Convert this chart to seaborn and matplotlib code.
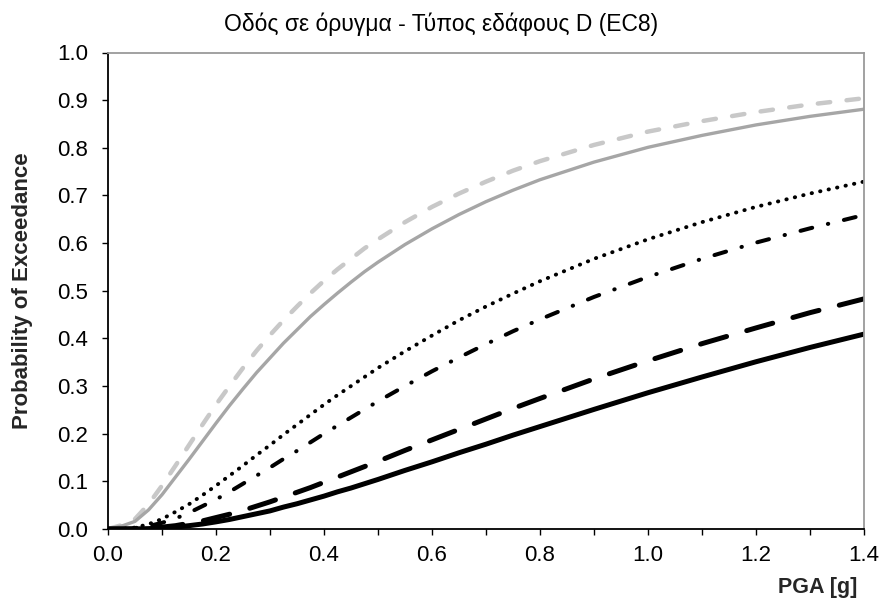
import matplotlib
matplotlib.use("Agg")
import matplotlib.pyplot as plt
import seaborn as sns
import pandas as pd

# ---- data ----
pga = [0.0, 0.025, 0.05, 0.075, 0.1, 0.125, 0.15, 0.175, 0.2, 0.225, 0.25, 0.275,
       0.3, 0.325, 0.35, 0.375, 0.4, 0.425, 0.45, 0.475, 0.5, 0.55, 0.6, 0.65,
       0.7, 0.75, 0.8, 0.9, 1.0, 1.1, 1.2, 1.3, 1.4]

curve_gray_dashed = [0.0, 0.008, 0.021, 0.052, 0.091, 0.133, 0.176, 0.219, 0.261, 0.300,
                     0.338, 0.374, 0.407, 0.438, 0.467, 0.495, 0.521, 0.545, 0.567,
                     0.589, 0.608, 0.644, 0.676, 0.704, 0.729, 0.752, 0.772, 0.806,
                     0.834, 0.856, 0.875, 0.891, 0.904]
curve_gray_solid = [0.0, 0.006, 0.016, 0.040, 0.072, 0.109, 0.146, 0.184, 0.222, 0.259,
                    0.294, 0.328, 0.359, 0.390, 0.418, 0.446, 0.471, 0.495, 0.518,
                    0.540, 0.560, 0.597, 0.630, 0.660, 0.687, 0.711, 0.733, 0.770,
                    0.801, 0.826, 0.848, 0.866, 0.881]
curve_dotted = [0.0, 0.0003, 0.003, 0.010, 0.021, 0.036, 0.052, 0.071, 0.091, 0.112,
                0.133, 0.155, 0.176, 0.198, 0.219, 0.240, 0.261, 0.281, 0.300, 0.319,
                0.338, 0.373, 0.406, 0.438, 0.467, 0.494, 0.520, 0.567, 0.608, 0.644,
                0.676, 0.704, 0.729]
curve_dashdot = [0.0, 0.0001, 0.002, 0.006, 0.013, 0.022, 0.034, 0.048, 0.062, 0.078,
                 0.095, 0.112, 0.129, 0.147, 0.164, 0.182, 0.200, 0.217, 0.234, 0.251,
                 0.268, 0.300, 0.331, 0.360, 0.388, 0.415, 0.440, 0.487, 0.529, 0.567,
                 0.601, 0.631, 0.659]
curve_longdash = [0.0, 0.0, 0.0004, 0.0015, 0.004, 0.007, 0.012, 0.017, 0.024, 0.031,
                  0.039, 0.048, 0.057, 0.067, 0.077, 0.087, 0.098, 0.109, 0.120, 0.131,
                  0.142, 0.165, 0.187, 0.209, 0.231, 0.253, 0.274, 0.315, 0.353, 0.389,
                  0.422, 0.454, 0.483]
curve_black_solid = [0.0, 0.0, 0.0002, 0.0008, 0.002, 0.004, 0.007, 0.0105, 0.015, 0.020,
                     0.026, 0.032, 0.038, 0.046, 0.053, 0.061, 0.069, 0.078, 0.086,
                     0.095, 0.104, 0.123, 0.141, 0.160, 0.178, 0.197, 0.215, 0.251,
                     0.286, 0.319, 0.351, 0.381, 0.409]

series_names = ["gray_dashed", "gray_solid", "dotted", "dashdot", "longdash", "black_solid"]
series_values = [curve_gray_dashed, curve_gray_solid, curve_dotted, curve_dashdot,
                 curve_longdash, curve_black_solid]

x_ticks = [0.0, 0.2, 0.4, 0.6, 0.8, 1.0, 1.2, 1.4]
x_minor_ticks = [0.1, 0.3, 0.5, 0.7, 0.9, 1.1, 1.3]
y_ticks = [0.0, 0.1, 0.2, 0.3, 0.4, 0.5, 0.6, 0.7, 0.8, 0.9, 1.0]

title = "Οδός σε όρυγμα - Τύπος εδάφους D (EC8)"
x_label = "PGA [g]"
y_label = "Probability of Exceedance"

# ---- styles ----
palette = {"gray_dashed": "#c8c8c8", "gray_solid": "#a6a6a6", "dotted": "#000000",
           "dashdot": "#000000", "longdash": "#000000", "black_solid": "#000000"}
sizes = {"gray_dashed": 3.2, "gray_solid": 2.4, "dotted": 2.8,
         "dashdot": 2.9, "longdash": 3.6, "black_solid": 3.6}
dashes = {"gray_dashed": (2.8, 3.7), "gray_solid": "", "dotted": (0.1, 2.13),
          "dashdot": (3.0, 4.0, 0.1, 4.0), "longdash": (5.4, 4.2), "black_solid": ""}

rows = []
for name, vals in zip(series_names, series_values):
    for xv, yv in zip(pga, vals):
        rows.append({"PGA": xv, "P": yv, "series": name})
df = pd.DataFrame(rows)

sns.set_theme(style="ticks")
plt.rcParams["font.family"] = ["Liberation Sans", "DejaVu Sans"]

fig = plt.figure(figsize=(8.82, 6.02), dpi=100)
ax = fig.add_axes([108 / 882, 1 - 529 / 602, (864 - 108) / 882, (529 - 52.5) / 602])

sns.lineplot(data=df, x="PGA", y="P", hue="series", style="series", size="series",
             hue_order=series_names, style_order=series_names, size_order=series_names,
             palette=palette, dashes=dashes, sizes=sizes, legend=False,
             estimator=None, sort=True, ax=ax)
for line in ax.lines:
    line.set_dash_capstyle("round")
    line.set_solid_capstyle("round")
    line.set_solid_joinstyle("round")

ax.set_xlim(0, 1.4)
ax.set_ylim(0, 1.0)
ax.set_xticks(x_ticks)
ax.set_xticklabels([f"{t:.1f}" for t in x_ticks])
ax.set_xticks(x_minor_ticks, minor=True)
ax.set_yticks(y_ticks)
ax.set_yticklabels([f"{t:.1f}" for t in y_ticks])

ax.tick_params(axis="both", which="both", direction="out", length=4.3, width=1.0,
               color="black", labelsize=16, labelcolor="black")
ax.tick_params(axis="y", pad=10)
ax.tick_params(axis="x", pad=7.5)

for side in ["left", "bottom"]:
    ax.spines[side].set_color("black")
    ax.spines[side].set_linewidth(1.3)
for side in ["top", "right"]:
    ax.spines[side].set_visible(True)
    ax.spines[side].set_color("#9a9a9a")
    ax.spines[side].set_linewidth(1.3)

ax.set_xlabel(x_label, fontsize=15.5, fontweight="bold", ha="right", va="top")
ax.xaxis.set_label_coords((857 - 108) / 756, (529 - 577) / 476.5)
ax.set_ylabel(y_label, fontsize=16, fontweight="bold")
ax.yaxis.set_label_coords((33 - 108) / 756, 0.5)

fig.text(441 / 882, 1 - 31 / 602, title, ha="center", va="baseline", fontsize=16.5,
         color="black")

fig.savefig("out.png", dpi=100, facecolor="white")
